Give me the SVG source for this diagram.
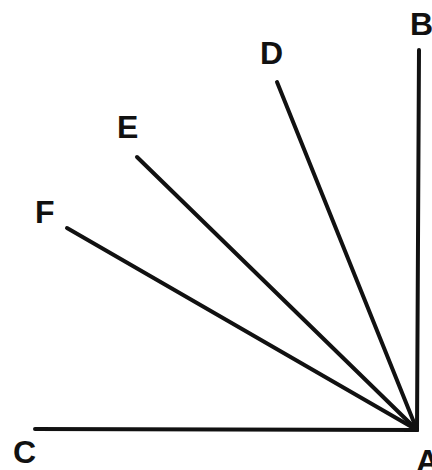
<svg xmlns="http://www.w3.org/2000/svg" width="432" height="470" viewBox="0 0 432 470">
<style>
.ln{stroke:#111;stroke-width:4;stroke-linecap:round;fill:none}
.lb{font-family:"Liberation Sans",Arial,sans-serif;font-weight:bold;font-size:32px;fill:#111}
</style>
<rect width="432" height="470" fill="#fff"/>
<g id="connectors">
<line class="ln" x1="419" y1="50" x2="417" y2="430"/>
<line class="ln" x1="35" y1="429" x2="417" y2="430"/>
<line class="ln" x1="277" y1="82" x2="417" y2="430"/>
<line class="ln" x1="137" y1="157" x2="417" y2="430"/>
<line class="ln" x1="67" y1="228" x2="417" y2="430"/>
</g>
<g id="A"><text class="lb" x="416" y="472">A</text></g>
<g id="B"><text class="lb" x="410" y="35">B</text></g>
<g id="C"><text class="lb" x="13" y="463">C</text></g>
<g id="D"><text class="lb" x="260" y="64">D</text></g>
<g id="E"><text class="lb" x="117" y="138">E</text></g>
<g id="F"><text class="lb" x="35" y="223">F</text></g>
</svg>
